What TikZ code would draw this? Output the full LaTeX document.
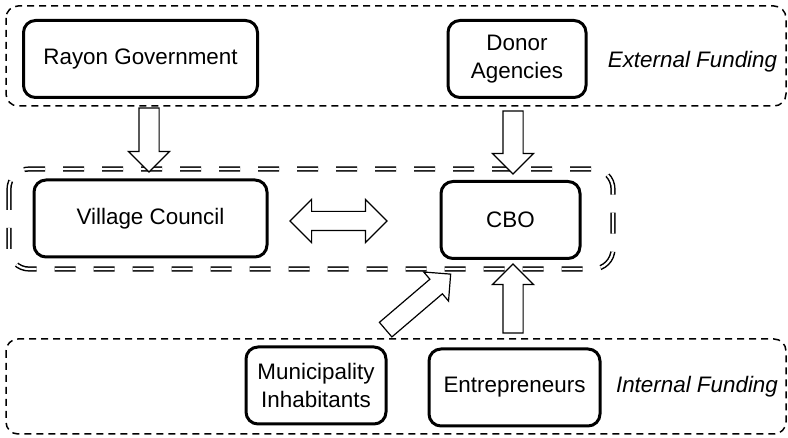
\documentclass[tikz,border=0pt]{standalone}
\usepackage{fontspec}
\setmainfont{Liberation Sans}
\usetikzlibrary{shapes.arrows}

\begin{document}
\begin{tikzpicture}
        % 坐标单位为像素: 1px = 0.5pt, y 轴向下
        [x=0.5pt,y=-0.5pt,
        font=\fontsize{11.2}{14}\selectfont,
        BoxNode/.style={rectangle,rounded corners=6pt,draw=black,line width=1.5pt,minimum height=38.5pt,align=center,inner sep=0pt},
        GroupBox/.style={draw=black,line width=0.75pt,dash pattern=on 3.5pt off 2.5pt,rounded corners=6pt},
        CoreBox/.style={draw=black,line width=0.75pt,double,double distance=1.1pt,dash pattern=on 10.5pt off 9pt,rounded corners=10pt},
        SArrow/.style={single arrow,draw=black,line width=0.6pt,fill=white,inner xsep=0pt,inner ysep=4.75pt,single arrow head extend=5.25pt},
        DArrow/.style={double arrow,draw=black,line width=0.6pt,fill=white,inner xsep=0pt,inner ysep=4.5pt,double arrow head extend=6pt},
        NoteNode/.style={font=\fontsize{11.2}{14}\selectfont\itshape}]

        \useasboundingbox (0,0) rectangle (788,438);

        % 外部资金、核心、内部资金三个分组框
        \draw[GroupBox] (6,6) rectangle (786,106);
        \draw[CoreBox] (9,169) rectangle (613,269);
        \draw[GroupBox] (6,339) rectangle (786,434);

        % 添加结点
        % \node[结点样式] (结点名称) at (结点坐标) {节点内容}
        \node[BoxNode,minimum width=117pt] (gov) at (140.5,59) {Rayon Government};
        \node[BoxNode,minimum width=69pt] (donor) at (517,59) {Donor\\Agencies};
        \node[BoxNode,minimum width=116.5pt] (vc) at (150.5,218.5) {Village Council};
        \node[BoxNode,minimum width=69.5pt] (cbo) at (510.5,220) {CBO};
        \node[BoxNode,minimum width=70pt] (mi) at (316,385.5) {Municipality\\Inhabitants};
        \node[BoxNode,minimum width=85.5pt] (ent) at (514.5,387.5) {Entrepreneurs};

        % 空心箭头
        \node[SArrow,minimum height=32pt,rotate=-90] (a_1) at (149,135) {};
        \node[SArrow,minimum height=31.5pt,rotate=-90] (a_2) at (513,137.5) {};
        \node[DArrow,minimum height=48.5pt] (a_3) at (338.5,221) {};
        \node[SArrow,minimum height=34.5pt,rotate=90] (a_4) at (513,303.5) {};
        \node[SArrow,minimum height=42.75pt,inner ysep=4.5pt,single arrow head extend=4.75pt,rotate=40.5] (a_5) at (414.5,305) {};

        % 添加说明文字
        \node[NoteNode] (ext) at (692.5,62) {External Funding};
        \node[NoteNode] (int) at (697,387) {Internal Funding};
    \end{tikzpicture}
\end{document}
